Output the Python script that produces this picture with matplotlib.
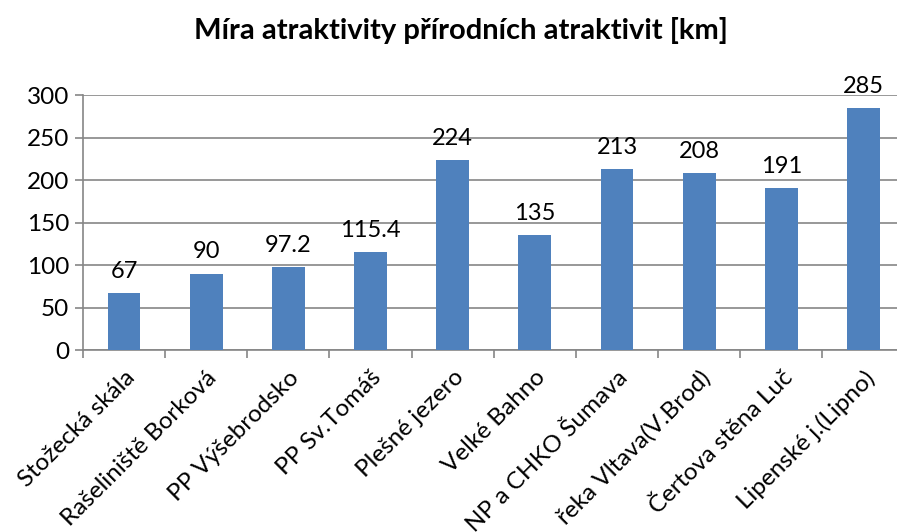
import matplotlib
matplotlib.use('Agg')
import matplotlib.pyplot as plt
import numpy as np

# values
categories = [
    "Stožecká skála",
    "Rašeliniště Borková",
    "PP Výšebrodsko",
    "PP Sv.Tomáš",
    "Plešné jezero",
    "Velké Bahno",
    "NP a CHKO Šumava",
    "řeka Vltava(V.Brod)",
    "Čertova stěna Luč",
    "Lipenské j.(Lipno)",
]
values = [67, 90, 97.2, 115.4, 224, 135, 213, 208, 191, 285]
value_labels = ["67", "90", "97.2", "115.4", "224", "135", "213", "208", "191", "285"]
yticks = [0, 50, 100, 150, 200, 250, 300]

plt.rcParams['font.family'] = ['Lato', 'DejaVu Sans']

fig = plt.figure(figsize=(8.97, 5.32), dpi=100)
ax = fig.add_axes([0.0925, 0.342, 0.916, 0.479])

x = np.arange(len(categories))
bars = ax.bar(x, values, width=0.4, color='#4F81BD', zorder=3)

for b, lab in zip(bars, value_labels):
    ax.annotate(lab, xy=(b.get_x() + b.get_width() / 2, b.get_height()),
                xytext=(0, 8), textcoords='offset points',
                ha='center', va='bottom', fontsize=17, color='black')

ax.set_xlim(-0.5, len(categories) - 0.5)
ax.set_ylim(0, 300)
ax.set_yticks(yticks)
ax.set_yticklabels([str(t) for t in yticks], fontsize=17.5)
ax.yaxis.grid(True, color='#868686', linewidth=1.2, zorder=0)
ax.tick_params(axis='y', length=6, width=1.2, color='#868686', pad=4)

# category ticks sit between the bars
ax.set_xticks(np.arange(len(categories) + 1) - 0.5, minor=False)
ax.set_xticklabels([])
ax.tick_params(axis='x', which='major', length=6, width=1.2, color='#868686', direction='out')
ax.set_xticks(x, minor=True)
ax.set_xticklabels(categories, minor=True, rotation=45, ha='right',
                   rotation_mode='anchor', fontsize=17.5)
ax.tick_params(axis='x', which='minor', length=0, pad=12)

for side in ['top', 'right']:
    ax.spines[side].set_visible(False)
for side in ['left', 'bottom']:
    ax.spines[side].set_color('#868686')
    ax.spines[side].set_linewidth(1.2)

fig.text(0.514, 0.943, "Míra atraktivity přírodních atraktivit [km]",
         ha='center', va='center', fontsize=21, fontweight='bold')

fig.savefig('out.png', dpi=100)
